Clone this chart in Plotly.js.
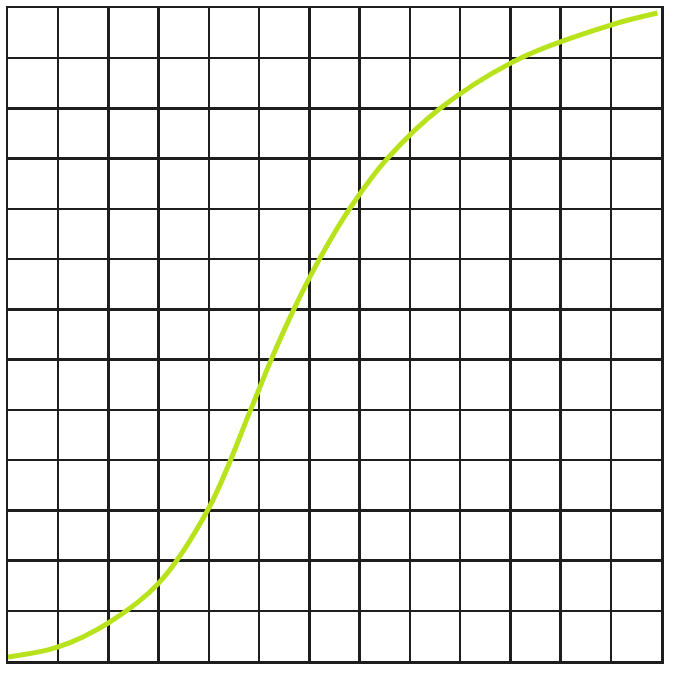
<!DOCTYPE html>
<html>
<head>
<meta charset="utf-8">
<script src="https://cdn.plot.ly/plotly-3.0.1.min.js"></script>
<style>html,body{margin:0;padding:0;background:#fff;}#chart{width:674px;height:674px;}</style>
</head>
<body>
<div id="chart"></div>
<script>
// Curve samples (grid units, 13 x 13 cells)
var curveX = [0, 1, 2, 3, 4, 4.83, 5.24, 5.69, 6.2, 6.8, 7.55, 8.6, 10.2, 12.0, 12.93];
var curveY = [0.08, 0.28, 0.76, 1.55, 3.05, 5.0, 6.0, 7.0, 8.0, 9.0, 10.0, 11.0, 12.0, 12.66, 12.9];
var gridMax = 13;

var gridColor = '#1e1e1e';
var axisCommon = {
  range: [0, gridMax],
  dtick: 1,
  tick0: 0,
  showgrid: true,
  gridcolor: gridColor,
  gridwidth: 2.5,
  zeroline: false,
  showticklabels: false,
  ticks: '',
  showline: true,
  mirror: true,
  linecolor: gridColor,
  linewidth: 2.5,
  fixedrange: true
};

Plotly.newPlot('chart', [{
  x: curveX,
  y: curveY,
  type: 'scatter',
  mode: 'lines',
  line: {color: '#b8e21c', width: 5, shape: 'spline', smoothing: 1},
  hoverinfo: 'skip'
}], {
  width: 674,
  height: 674,
  margin: {l: 8, r: 13, t: 8, b: 13, pad: 0},
  paper_bgcolor: '#ffffff',
  plot_bgcolor: '#ffffff',
  showlegend: false,
  xaxis: Object.assign({}, axisCommon),
  yaxis: Object.assign({}, axisCommon)
}, {displayModeBar: false, staticPlot: true});
</script>
</body>
</html>
